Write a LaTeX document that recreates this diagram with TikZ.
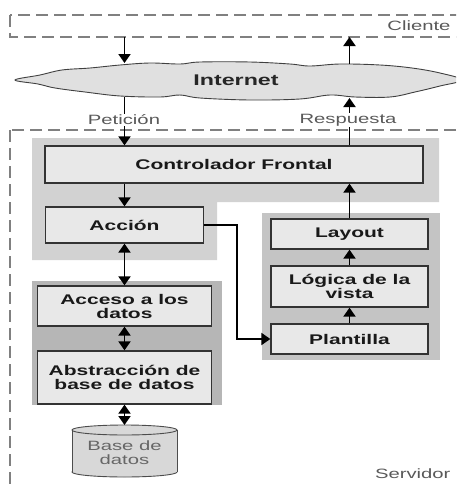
\documentclass[tikz,border=0pt]{standalone}
\usepackage{fontspec}
\setmainfont{Liberation Sans}[FakeStretch=1.5]
\usetikzlibrary{arrows.meta,calc}
\definecolor{panelA}{HTML}{D2D2D2}
\definecolor{panelB}{HTML}{C4C4C4}
\definecolor{panelC}{HTML}{B6B6B6}
\definecolor{boxfill}{HTML}{E8E8E8}
\definecolor{cloudfill}{HTML}{E0E0E0}
\definecolor{dbfill}{HTML}{D8D8D8}
\begin{document}
\begin{tikzpicture}[x=1pt,y=-1pt,
  box/.style={draw=black!80, line width=1.3pt, fill=boxfill, font=\fontsize{14}{14}\selectfont\bfseries, text=black!90, align=center, inner sep=0pt},
  arr/.style={line width=1.9pt, -{Triangle[width=12pt,length=9pt]}},
  darr/.style={line width=1.9pt, {Triangle[width=12pt,length=9pt]}-{Triangle[width=12pt,length=9pt]}},
  lbl/.style={font=\fontsize{13.5}{14}\selectfont, text=black!65},
  zone/.style={draw=black!50, line width=1.3pt, dash pattern=on 12pt off 6pt}
]
\useasboundingbox (0,0) rectangle (456,485);
\clip (0,0) rectangle (456,485);

% zones
\draw[zone] (10,15) rectangle (475,37);
\draw[zone] (10,130) rectangle (475,500);
\node[lbl, anchor=east] (cli) at (454,26) {Cliente};
\node[lbl, anchor=east] (srv) at (454,474) {Servidor};

% cloud
\filldraw[fill=cloudfill, draw=black!75, line width=0.9pt]
  plot[smooth cycle, tension=0.6] coordinates {
  (15,80) (40,75) (62,70) (90,68) (120,65) (150,63) (180,64) (200,62) (250,62) (290,64) (310,66) (340,64) (380,65) (412,68) (440,73) (462,80)
  (440,86) (415,92) (390,97) (355,97) (330,95) (300,99) (250,100) (200,98) (180,95) (160,97) (120,96) (85,92) (55,88) (38,84)};
\node[font=\fontsize{15.5}{16}\selectfont\bfseries, text=black!85] (inet) at (236,80) {Internet};

% panels
\fill[panelA] (32,138) -- (439,138) -- (439,202) -- (217,202) -- (217,260) -- (32,260) -- cycle;
\fill[panelB] (262,213) rectangle (440,360);
\fill[panelC] (32,281) rectangle (222,405);

% boxes
\node[box, minimum width=378, minimum height=37] (ctrl) at (234,164.5) {Controlador Frontal};
\node[box, minimum width=158, minimum height=36] (acc) at (124.5,225) {Acción};
\node[box, minimum width=157, minimum height=30] (lay) at (349.5,234) {Layout};
\node[box, minimum width=157, minimum height=41] (log) at (349.5,286.5) {Lógica de la\\vista};
\node[box, minimum width=157, minimum height=30] (pla) at (349.5,339) {Plantilla};
\node[box, minimum width=174, minimum height=40] (dat) at (124.5,306) {Acceso a los\\datos};
\node[box, minimum width=174, minimum height=53] (abs) at (124.5,377.5) {Abstracción de\\base de datos};

% database cylinder
\filldraw[fill=dbfill, draw=black!70, line width=0.9pt] (124.5,472) ellipse [x radius=52.5pt, y radius=5pt];
\fill[dbfill] (72,430) rectangle (177,472);
\draw[black!70, line width=0.9pt] (72,430) -- (72,472) (177,430) -- (177,472);
\filldraw[fill=dbfill, draw=black!70, line width=0.9pt] (124.5,430) ellipse [x radius=52.5pt, y radius=5pt];
\coordinate (dbtop) at (124.5,425);
\node[lbl, align=center, text=black!60] (db) at (124.5,453) {Base de\\datos};

% coordinates on client box and cloud
\coordinate (clientL) at (124.5,37);
\coordinate (clientR) at (349.5,37);
\coordinate (cloudtopL) at (124.5,63);
\coordinate (cloudbotL) at (124.5,97);
\coordinate (cloudtopR) at (349.5,64);
\coordinate (cloudbotR) at (349.5,98);

% connectors
\draw[arr] (clientL) -- (cloudtopL);
\draw[arr] (cloudtopR) -- (clientR);
\draw[arr] (cloudbotL) -- (acc |- ctrl.north);
\draw[arr] (lay |- ctrl.north) -- (cloudbotR);
\node[lbl, fill=white, inner sep=1pt] (pet) at (124,120) {Petición};
\node[lbl, fill=white, inner sep=1pt] (res) at (348,120) {Respuesta};

\draw[arr] (acc |- ctrl.south) -- (acc.north);
\draw[darr] (acc.south) -- (dat.north);
\draw[darr] (dat.south) -- (abs.north);
\draw[darr] (abs.south) -- (dbtop);
\draw[arr] (acc.east) -- (237,225) -- (237,339) -- (pla.west);
\draw[arr] (pla.north) -- (log.south);
\draw[arr] (log.north) -- (lay.south);
\draw[arr] (lay.north) -- (lay |- ctrl.south);
\end{tikzpicture}
\end{document}
